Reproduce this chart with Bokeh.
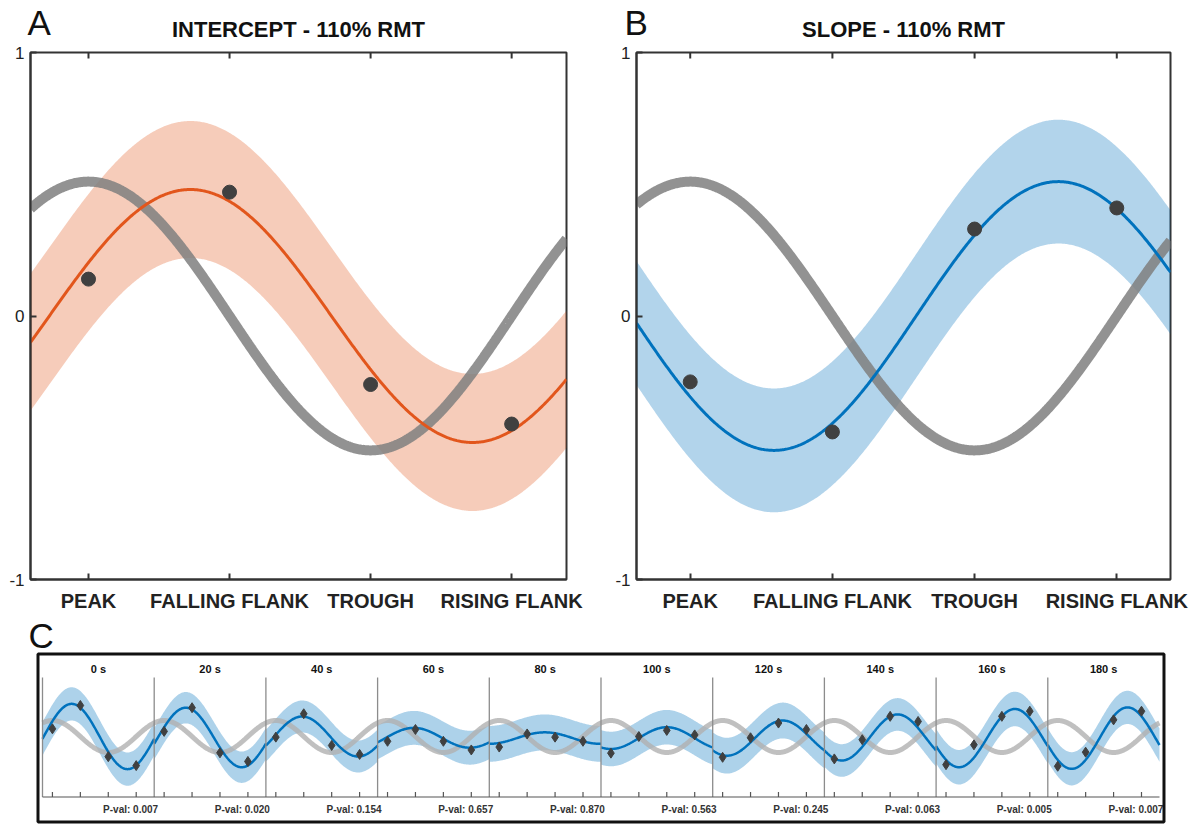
import numpy as np
from bokeh.plotting import figure
from bokeh.models import Range1d, FixedTicker
from bokeh.layouts import column, row
from bokeh.embed import file_html
from bokeh.resources import INLINE
from bokeh.core.properties import value

FONT = "Liberation Sans"

# ---------------- data: panels A and B ----------------
phase_ticks = [0, 90, 180, 270]
phase_labels = ["PEAK", "FALLING FLANK", "TROUGH", "RISING FLANK"]
y_ticks = [-1, 0, 1]
y_labels = ["-1", "0", "1"]

ref_amp = 0.51
ref_phase = 0.0

intercept_points = [0.14, 0.47, -0.26, -0.41]
intercept_amp = 0.48
intercept_phase = 65.0
intercept_ci = 0.26

slope_points = [-0.25, -0.44, 0.33, 0.41]
slope_amp = 0.51
slope_phase = 233.0
slope_ci = 0.235

panel_titles = ["INTERCEPT - 110% RMT", "SLOPE - 110% RMT"]
panel_letters = ["A", "B", "C"]

# ---------------- data: panel C ----------------
seg_labels = ["0 s", "20 s", "40 s", "60 s", "80 s", "100 s", "120 s", "140 s", "160 s", "180 s"]
seg_pvals = [0.007, 0.020, 0.154, 0.657, 0.870, 0.563, 0.245, 0.063, 0.005, 0.007]
seg_amp = [1.02, 0.93, 0.625, 0.31, 0.18, 0.34, 0.55, 0.72, 0.91, 0.96]
seg_phase = [62, 70, 85, 85, 147, 180, 194, 204, 222, 225]
seg_offset = [0.0, -0.03, 0.0, -0.04, -0.05, -0.05, -0.05, -0.03, -0.05, -0.05]
seg_ci = [0.52, 0.49, 0.50, 0.53, 0.56, 0.54, 0.56, 0.51, 0.54, 0.52]
seg_points = [
    [0.24, 0.97, -0.63, -0.91],
    [0.16, 0.90, -0.51, -0.78],
    [-0.02, 0.71, -0.28, -0.56],
    [-0.15, 0.22, -0.15, -0.42],
    [-0.33, 0.08, -0.02, -0.15],
    [-0.52, 0.00, 0.19, 0.05],
    [-0.65, -0.04, 0.42, 0.22],
    [-0.70, -0.10, 0.63, 0.47],
    [-0.88, -0.26, 0.63, 0.79],
    [-0.93, -0.49, 0.52, 0.79],
]
c_ref_amp = 0.5

ORANGE = "#E2561C"
BLUE = "#0072BD"
GRAY = "#7f7f7f"
DOT = "#404040"
AX = "#333333"


def cosfit(x, amp, ph, off=0.0):
    return off + amp * np.cos(np.radians(np.asarray(x) - ph))


# ---------------- header (letters + titles) ----------------
HEAD_H = 42
ph = figure(width=1197, height=HEAD_H, x_range=Range1d(0, 1197), y_range=Range1d(HEAD_H, 0),
            output_backend="svg", toolbar_location=None, title=None,
            x_axis_location=None, y_axis_location=None,
            min_border_left=0, min_border_right=0, min_border_top=0, min_border_bottom=0)
ph.grid.visible = False
ph.outline_line_color = None
ph.text(x=[27, 624], y=[HEAD_H - 0.5] * 2, text=panel_letters[:2], text_align="left",
        text_baseline="bottom", text_font=value(FONT), text_font_size="35px",
        text_color="#111111")
ph.text(x=[298, 903], y=[HEAD_H - 0.5] * 2, text=panel_titles, text_align="center",
        text_baseline="bottom", text_font=value(FONT), text_font_style="bold",
        text_font_size="22px", text_color="#111111")


def make_panel(points, amp, ph_, ci, color, xr, width, bl, br):
    p = figure(width=width, height=572, x_range=Range1d(*xr), y_range=Range1d(-1, 1),
               output_backend="svg", toolbar_location=None, title=None,
               min_border_left=bl, min_border_right=br, min_border_top=10, min_border_bottom=34,
               background_fill_color="white", border_fill_color="white")
    p.grid.visible = False
    p.outline_line_color = AX
    p.outline_line_width = 2
    x = np.linspace(xr[0], xr[1], 500)
    fit = cosfit(x, amp, ph_)
    p.varea(x=x, y1=fit - ci, y2=fit + ci, fill_color=color, fill_alpha=0.3)
    p.line(x, cosfit(x, ref_amp, ref_phase), line_color=GRAY, line_alpha=0.85, line_width=10)
    p.line(x, fit, line_color=color, line_width=3)
    p.scatter(phase_ticks, points, size=14, color=DOT)
    # inward ticks on the top edge
    p.segment(x0=phase_ticks, y0=[1] * 4, x1=phase_ticks, y1=[1 - 6 / 264] * 4,
              line_color=AX, line_width=2)

    xa = p.xaxis[0]
    xa.ticker = FixedTicker(ticks=phase_ticks)
    xa.major_label_overrides = {t: l for t, l in zip(phase_ticks, phase_labels)}
    xa.major_label_text_font = FONT
    xa.major_label_text_font_style = "bold"
    xa.major_label_text_font_size = "20px"
    xa.major_label_text_color = "#222222"
    xa.major_label_standoff = 10
    xa.major_tick_in = 6
    xa.major_tick_out = 0
    xa.minor_tick_line_color = None
    xa.axis_line_color = AX
    xa.axis_line_width = 2
    xa.major_tick_line_color = AX
    xa.major_tick_line_width = 2

    ya = p.yaxis[0]
    ya.ticker = FixedTicker(ticks=y_ticks)
    ya.major_label_overrides = {t: l for t, l in zip(y_ticks, y_labels)}
    ya.major_label_text_font = FONT
    ya.major_label_text_font_size = "17px"
    ya.major_label_text_color = "#222222"
    ya.major_label_standoff = 6
    ya.major_tick_in = 6
    ya.major_tick_out = 0
    ya.minor_tick_line_color = None
    ya.axis_line_color = AX
    ya.axis_line_width = 2
    ya.major_tick_line_color = AX
    ya.major_tick_line_width = 2
    return p


pa = make_panel(intercept_points, intercept_amp, intercept_phase, intercept_ci, ORANGE,
                (-37, 305), 600, 30, 34)
pb = make_panel(slope_points, slope_amp, slope_phase, slope_ci, BLUE,
                (-34, 304), 597, 36, 27)

# ---------------- panel C ----------------
# frame = whole 1197 x 210 canvas (y 614..824); 111.7 px per 360 deg segment, 32 px per unit
pc = figure(width=1197, height=210, x_range=Range1d(-167.36, 3690.5), y_range=Range1d(-2.75, 3.8125),
            output_backend="svg", toolbar_location=None, title=None,
            min_border_left=0, min_border_right=0, min_border_top=0, min_border_bottom=0,
            x_axis_location=None, y_axis_location=None,
            background_fill_color="white", border_fill_color="white")
pc.grid.visible = False
pc.outline_line_color = None

n_seg = len(seg_labels)
seg_start = [360 * k - 32 for k in range(n_seg)]
seg_end = seg_start[-1] + 360
axis_y = -1.89
sep_top = 1.84

for k in range(n_seg):
    u = np.linspace(seg_start[k], seg_start[k] + 360, 160)
    fit = cosfit(u - 360 * k, seg_amp[k], seg_phase[k], seg_offset[k])
    pc.varea(x=u, y1=fit - seg_ci[k], y2=fit + seg_ci[k], fill_color=BLUE, fill_alpha=0.32)

u_all = np.linspace(seg_start[0], seg_end, 3000)
pc.line(u_all, cosfit(u_all, c_ref_amp, 0.0), line_color="#b0b0b0", line_alpha=0.8, line_width=5)

for k in range(n_seg):
    u = np.linspace(seg_start[k], seg_start[k] + 360, 160)
    fit = cosfit(u - 360 * k, seg_amp[k], seg_phase[k], seg_offset[k])
    pc.line(u, fit, line_color=BLUE, line_width=2.5)

dot_u = [360 * k + t for k in range(n_seg) for t in phase_ticks]
dot_y = [v for pts in seg_points for v in pts]
pc.scatter(dot_u, dot_y, marker="diamond", size=10, color=DOT)

# segment separators
pc.segment(x0=seg_start, y0=[axis_y] * n_seg, x1=seg_start, y1=[sep_top] * n_seg,
           line_color="#8c8c8c", line_width=1.3)
# bottom phase axis with inward ticks
pc.segment(x0=[seg_start[0]], y0=[axis_y], x1=[seg_end], y1=[axis_y],
           line_color="#555555", line_width=1.2)
pc.segment(x0=dot_u, y0=[axis_y] * len(dot_u), x1=dot_u, y1=[axis_y + 5 / 32] * len(dot_u),
           line_color="#555555", line_width=1.2)

pc.text(x=[s + 180 for s in seg_start], y=[2.125] * n_seg, text=seg_labels,
        text_align="center", text_baseline="middle", text_font=value(FONT),
        text_font_style="bold", text_font_size="11px", text_color="#111111")
pc.text(x=[s + 284 for s in seg_start], y=[-2.28] * n_seg,
        text=["P-val: %.3f" % v for v in seg_pvals],
        text_align="center", text_baseline="middle", text_font=value(FONT),
        text_font_style="bold", text_font_size="10px", text_color="#333333")

# outer black box of panel C
pc.quad(left=[-46.5], right=[3582.5], top=[2.578], bottom=[-2.672],
        fill_color=None, line_color="#111111", line_width=3)

pc.text(x=[-77.1], y=[3.78], text=[panel_letters[2]], text_align="left",
        text_baseline="top", text_font=value(FONT), text_font_size="35px",
        text_color="#111111")

layout = column(ph, row(pa, pb), pc)
open("out.html", "w").write(file_html(layout, INLINE))
